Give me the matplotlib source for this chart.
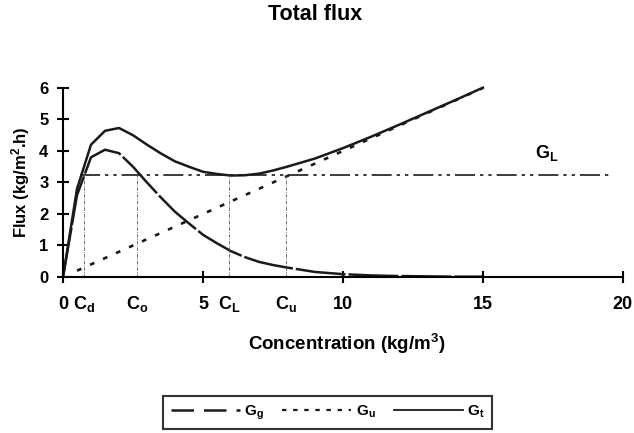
import matplotlib
matplotlib.use("Agg")
import matplotlib.pyplot as plt
from matplotlib.lines import Line2D

plt.rcParams['font.family'] = ['Liberation Sans', 'DejaVu Sans']
plt.rcParams['font.weight'] = 'bold'
plt.rcParams['mathtext.fontset'] = 'custom'
plt.rcParams['mathtext.rm'] = 'Liberation Sans:bold'
plt.rcParams['mathtext.it'] = 'Liberation Sans:bold'
plt.rcParams['mathtext.bf'] = 'Liberation Sans:bold'
plt.rcParams['mathtext.default'] = 'bf'

# concentration (kg/m3) and fluxes (kg/m2.h)
conc = [0, 0.5, 1, 1.5, 2, 2.5, 3, 3.5, 4, 4.5, 5, 5.5, 6, 6.5, 7, 7.5, 8,
        9, 10, 11, 12, 13, 14, 15]
g_g = [0, 2.6, 3.8, 4.04, 3.93, 3.5, 3.0, 2.52, 2.07, 1.7, 1.34, 1.07, 0.82,
       0.63, 0.48, 0.38, 0.3, 0.16, 0.09, 0.05, 0.03, 0.02, 0.01, 0.01]
u_rate = 0.4
g_u = [u_rate * c for c in conc]
g_t = [a + b for a, b in zip(g_g, g_u)]

g_lim = 3.25
gl_range = [0.6, 19.6]
c_marks = [0.76, 2.65, 5.94, 7.95]
c_names = ['$C_d$', '$C_o$', '$C_L$', '$C_u$']

fig = plt.figure(figsize=(6.34, 4.33), dpi=100)
ax = fig.add_axes([0.0994, 0.3603, 0.883, 0.4365])

ax.plot(conc, g_g, color='#1a1a1a', lw=1.8, dashes=(20, 1.2))
ax.plot(conc[1:], g_u[1:], color='#1a1a1a', lw=1.9, dashes=(1.8, 3.6))
ax.plot(conc, g_t, color='#1a1a1a', lw=1.8, clip_on=False)
ax.plot(gl_range, [g_lim, g_lim], color='#1a1a1a', lw=1.2,
        dashes=(12, 3, 2, 3, 2, 3))
for c in c_marks:
    ax.plot([c, c], [0, g_lim], color='#555555', lw=0.6, dashes=(4, 1.5, 1, 1.5))

ax.text(16.85, 3.78, '$G_L$', fontsize=13)

ax.set_xlim(0, 20)
ax.set_ylim(0, 6)
ax.set_xticks([0, 5, 10, 15, 20])
ax.set_xticks(c_marks, minor=True)
ax.set_xticklabels(c_names, minor=True)
ax.set_yticks(range(7))
ax.tick_params(axis='both', which='major', direction='inout', length=9,
               width=1.5, labelsize=12, pad=6)
ax.tick_params(axis='x', which='major', labelsize=13, pad=9)
ax.tick_params(axis='x', which='minor', length=0, labelsize=13, pad=12)
ax.spines['top'].set_visible(False)
ax.spines['right'].set_visible(False)
ax.spines['left'].set_linewidth(1.5)
ax.spines['bottom'].set_linewidth(1.5)

ax.set_xlabel('Concentration (kg/m$^3$)', fontsize=13.5, fontweight='bold')
ax.xaxis.set_label_coords(0.506, -0.29)
ax.set_ylabel('Flux (kg/m$^2$.h)', fontsize=12, fontweight='bold')
ax.yaxis.set_label_coords(-0.055, 0.5)
fig.suptitle('Total flux', x=0.4976, y=0.99, fontsize=15.5, fontweight='bold')

handles = [Line2D([], [], color='#1a1a1a', lw=1.8, dashes=(9, 4)),
           Line2D([], [], color='#1a1a1a', lw=1.6, dashes=(2, 3)),
           Line2D([], [], color='#1a1a1a', lw=1.3)]
leg = fig.legend(handles, ['$G_g$', '$G_u$', '$G_t$'], loc='center',
                 bbox_to_anchor=(0.517, 0.047), ncol=3, fontsize=11,
                 handlelength=4.5, handletextpad=0.3, columnspacing=1.2,
                 frameon=True, fancybox=False, borderpad=0.5)
leg.get_frame().set_edgecolor('black')
leg.get_frame().set_linewidth(1.5)

fig.savefig('out.png', dpi=100)
